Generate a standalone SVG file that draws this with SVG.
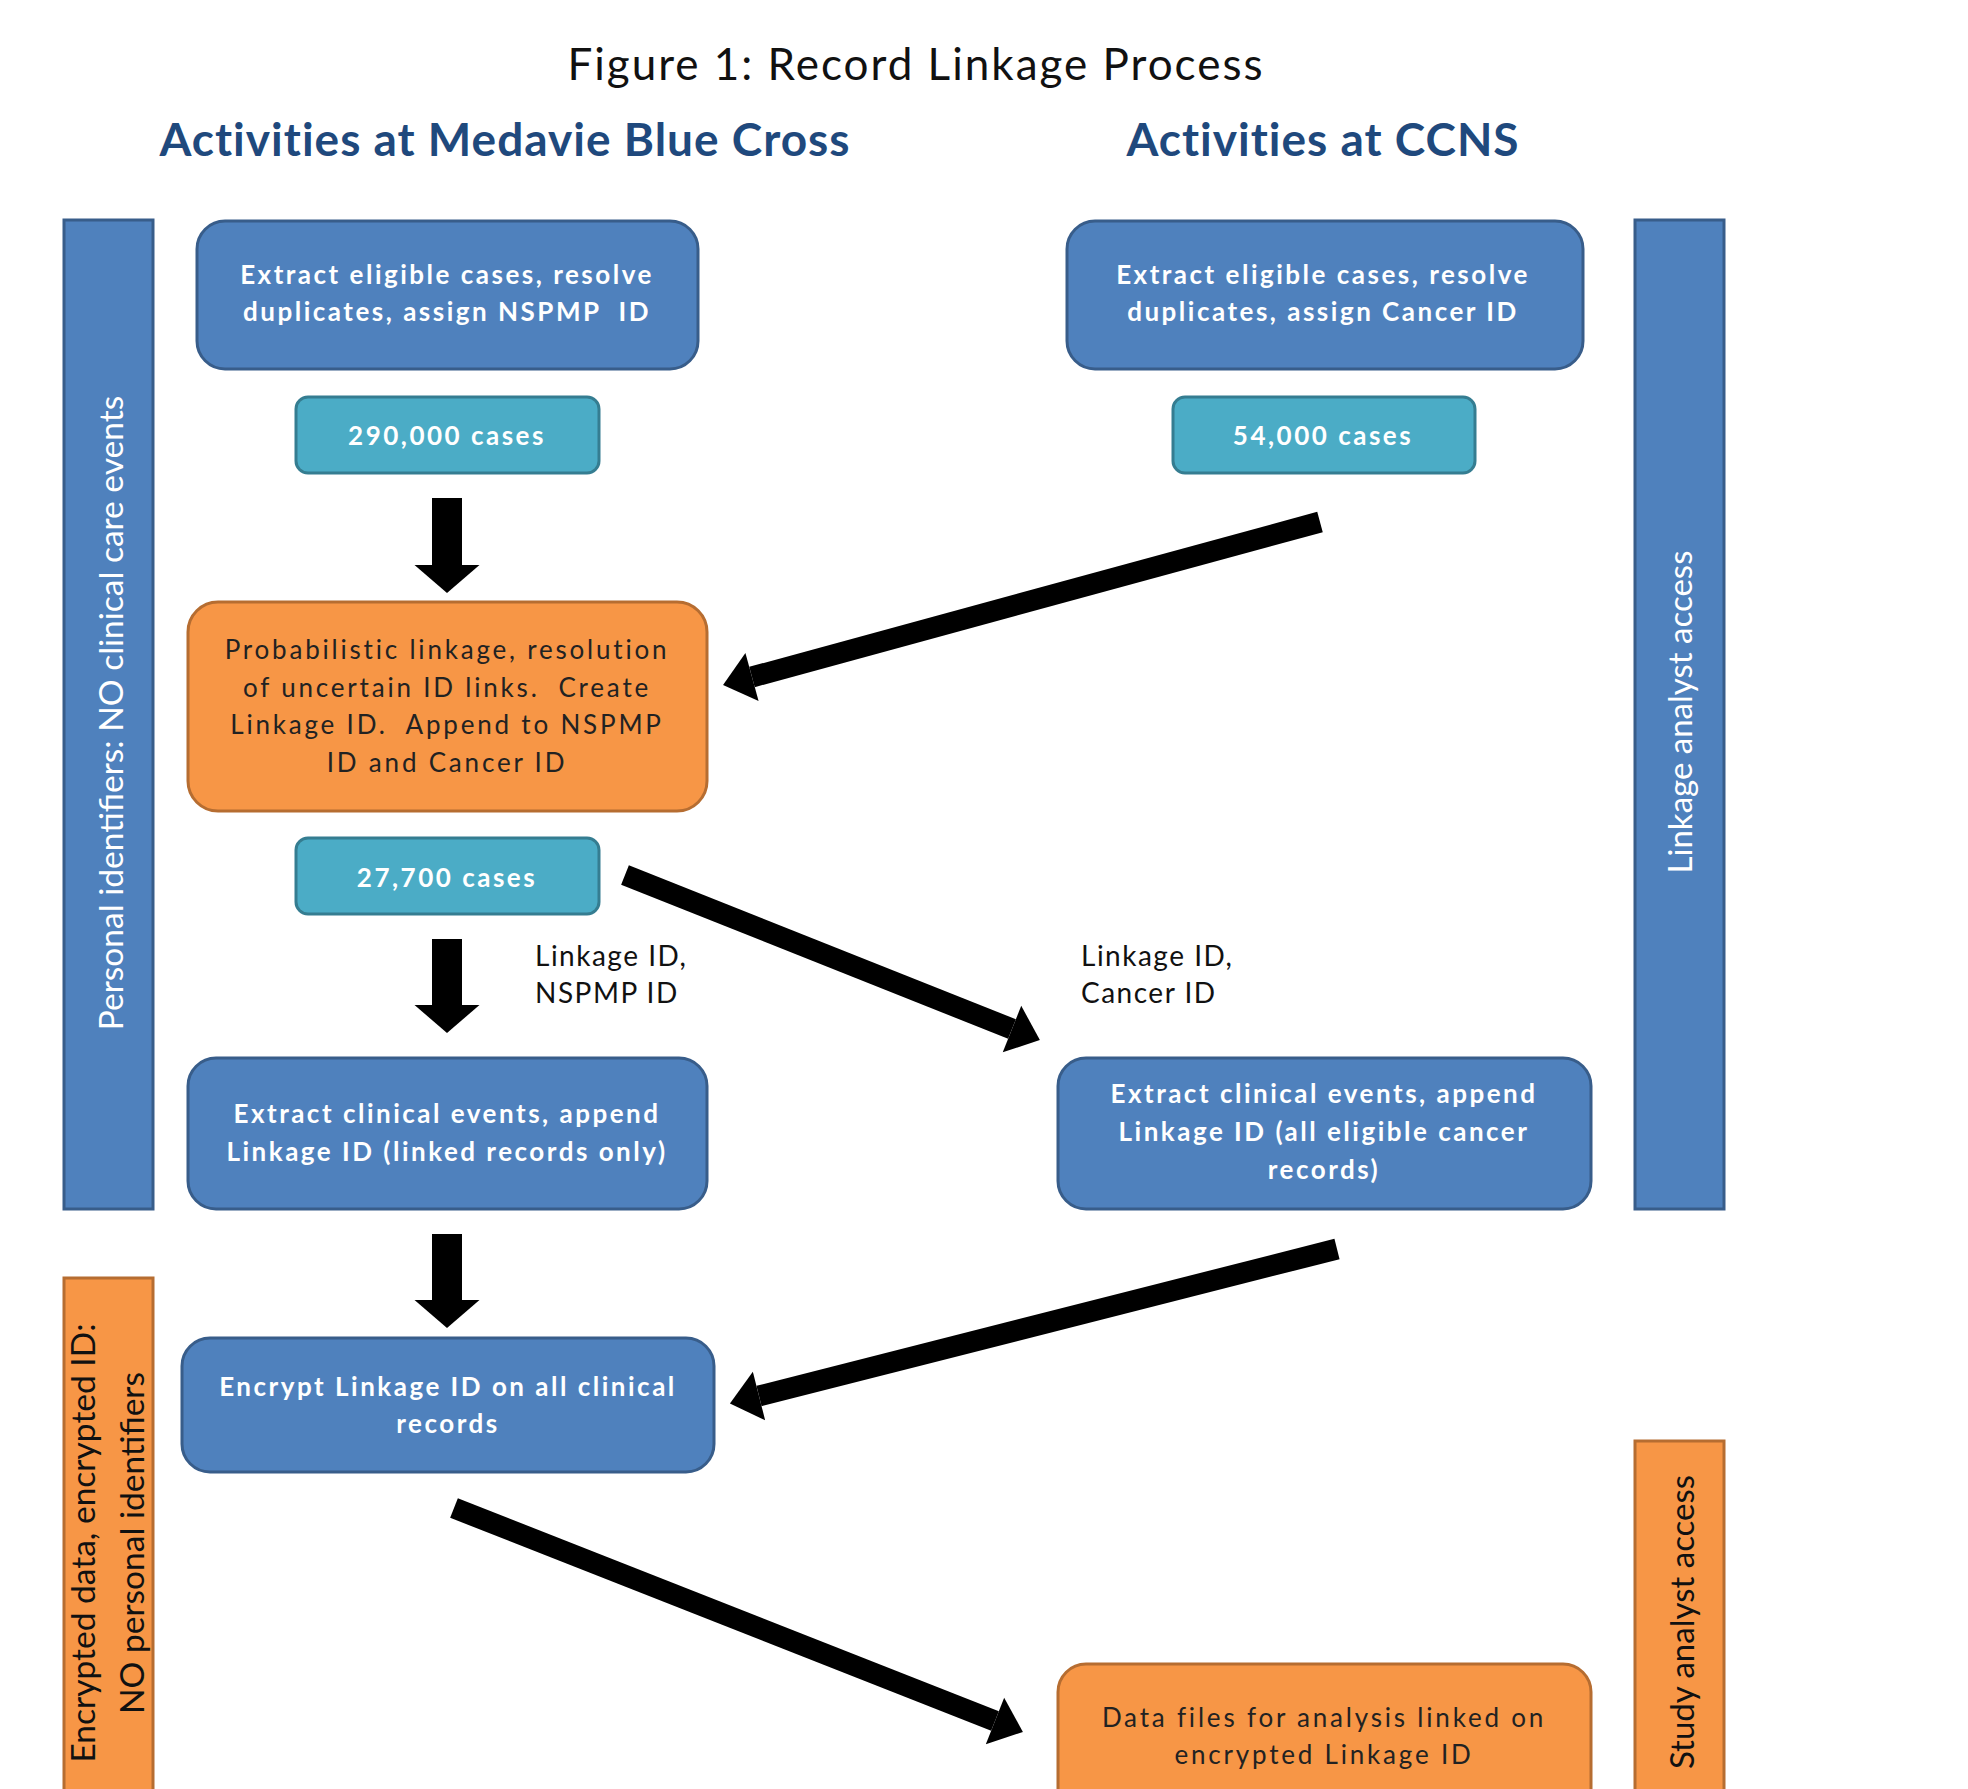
<svg xmlns="http://www.w3.org/2000/svg" width="1968" height="1789" viewBox="0 0 1968 1789">
<style>
.title{font-family:Lato,"Liberation Sans",sans-serif;font-size:44px;fill:#111;letter-spacing:2px;}
.head{font-family:Lato,"Liberation Sans",sans-serif;font-size:46px;font-weight:bold;fill:#1F497D;letter-spacing:1px;}
.blue{fill:#4F81BD;stroke:#385D8A;stroke-width:3;}
.teal{fill:#4BACC6;stroke:#357D91;stroke-width:3;}
.orange{fill:#F79646;stroke:#B66D31;stroke-width:3;}
.wt{font-family:Lato,"Liberation Sans",sans-serif;font-size:26px;font-weight:bold;fill:#fff;letter-spacing:2.5px;}
.dt{font-family:Lato,"Liberation Sans",sans-serif;font-size:26px;fill:#222;letter-spacing:2.8px;}
.lbl{font-family:Lato,"Liberation Sans",sans-serif;font-size:28px;fill:#111;letter-spacing:1.5px;}
.side{font-family:Lato,"Liberation Sans",sans-serif;font-size:33.5px;}
.conn{stroke:#000;stroke-width:21;fill:none;}
.vconn{stroke:#000;stroke-width:30;fill:none;}
</style>
<defs>
<marker id="ah" markerUnits="userSpaceOnUse" markerWidth="40" markerHeight="60" refX="0" refY="0" orient="auto" overflow="visible">
<path d="M0,-25 L30,0 L0,25 Z" fill="#000"/>
</marker>
<marker id="vh" markerUnits="userSpaceOnUse" markerWidth="40" markerHeight="70" refX="0" refY="0" orient="auto" overflow="visible">
<path d="M0,-32.5 L28,0 L0,32.5 Z" fill="#000"/>
</marker>
</defs>
<rect width="1968" height="1789" fill="#fff"/>

<text class="title" x="916" y="63" text-anchor="middle" dominant-baseline="central">Figure 1: Record Linkage Process</text>
<text class="head" x="505" y="138" text-anchor="middle" dominant-baseline="central">Activities at Medavie Blue Cross</text>
<text class="head" x="1323" y="138" text-anchor="middle" dominant-baseline="central">Activities at CCNS</text>

<g id="sidebar-personal">
<rect class="blue" x="64" y="220" width="89" height="989"/>
<text class="side" fill="#fff" transform="translate(110,713) rotate(-90)" text-anchor="middle" dominant-baseline="central">Personal identifiers: NO clinical care events</text>
</g>
<g id="sidebar-linkage">
<rect class="blue" x="1635" y="220" width="89" height="989"/>
<text class="side" fill="#fff" transform="translate(1679,712) rotate(-90)" text-anchor="middle" dominant-baseline="central" style="font-size:33px">Linkage analyst access</text>
</g>
<g id="sidebar-encrypted">
<rect class="orange" x="64" y="1278" width="89" height="540"/>
<text class="side" fill="#111" transform="translate(108,1543) rotate(-90)" text-anchor="middle"><tspan x="0" y="-13">Encrypted data, encrypted ID:</tspan><tspan x="0" y="36">NO personal identifiers</tspan></text>
</g>
<g id="sidebar-study">
<rect class="orange" x="1635" y="1441" width="89" height="380"/>
<text class="side" fill="#111" transform="translate(1681,1622) rotate(-90)" text-anchor="middle" dominant-baseline="central" style="font-size:33px">Study analyst access</text>
</g>

<g id="n-mbc-extract">
<rect class="blue" x="197" y="221" width="501" height="148" rx="28"/>
<text class="wt" text-anchor="middle" xml:space="preserve"><tspan x="447" y="284">Extract eligible cases, resolve</tspan><tspan x="447" y="321">duplicates, assign NSPMP  ID</tspan></text>
</g>
<g id="n-mbc-count">
<rect class="teal" x="296" y="397" width="303" height="76" rx="12"/>
<text class="wt" x="447" y="435" text-anchor="middle" dominant-baseline="central">290,000 cases</text>
</g>
<g id="n-ccns-extract">
<rect class="blue" x="1067" y="221" width="516" height="148" rx="28"/>
<text class="wt" text-anchor="middle"><tspan x="1323" y="284">Extract eligible cases, resolve</tspan><tspan x="1323" y="321">duplicates, assign Cancer ID</tspan></text>
</g>
<g id="n-ccns-count">
<rect class="teal" x="1173" y="397" width="302" height="76" rx="12"/>
<text class="wt" x="1323" y="435" text-anchor="middle" dominant-baseline="central">54,000 cases</text>
</g>
<g id="n-linkage">
<rect class="orange" x="188" y="602" width="519" height="209" rx="30"/>
<text class="dt" text-anchor="middle" xml:space="preserve"><tspan x="447" y="659">Probabilistic linkage, resolution</tspan><tspan x="447" y="697">of uncertain ID links.  Create</tspan><tspan x="447" y="734">Linkage ID.  Append to NSPMP</tspan><tspan x="447" y="772">ID and Cancer ID</tspan></text>
</g>
<g id="n-linked-count">
<rect class="teal" x="296" y="838" width="303" height="76" rx="12"/>
<text class="wt" x="447" y="877" text-anchor="middle" dominant-baseline="central">27,700 cases</text>
</g>
<g id="lbl-nspmp">
<text class="lbl"><tspan x="535" y="966">Linkage ID,</tspan><tspan x="535" y="1003">NSPMP ID</tspan></text>
</g>
<g id="lbl-cancer">
<text class="lbl"><tspan x="1081" y="966">Linkage ID,</tspan><tspan x="1081" y="1003">Cancer ID</tspan></text>
</g>
<g id="n-mbc-clinical">
<rect class="blue" x="188" y="1058" width="519" height="151" rx="28"/>
<text class="wt" text-anchor="middle"><tspan x="447" y="1123">Extract clinical events, append</tspan><tspan x="447" y="1161">Linkage ID (linked records only)</tspan></text>
</g>
<g id="n-ccns-clinical">
<rect class="blue" x="1058" y="1058" width="533" height="151" rx="28"/>
<text class="wt" text-anchor="middle"><tspan x="1324" y="1103">Extract clinical events, append</tspan><tspan x="1324" y="1141">Linkage ID (all eligible cancer</tspan><tspan x="1324" y="1179">records)</tspan></text>
</g>
<g id="n-encrypt">
<rect class="blue" x="182" y="1338" width="532" height="134" rx="28"/>
<text class="wt" text-anchor="middle"><tspan x="448" y="1396">Encrypt Linkage ID on all clinical</tspan><tspan x="448" y="1433">records</tspan></text>
</g>
<g id="n-datafiles">
<rect class="orange" x="1058" y="1664" width="533" height="160" rx="28"/>
<text class="dt" text-anchor="middle"><tspan x="1324" y="1727">Data files for analysis linked on</tspan><tspan x="1324" y="1764">encrypted Linkage ID</tspan></text>
</g>

<g id="connectors">
<line class="vconn" x1="447" y1="498" x2="447" y2="565" marker-end="url(#vh)"/>
<line class="vconn" x1="447" y1="939" x2="447" y2="1005" marker-end="url(#vh)"/>
<line class="vconn" x1="447" y1="1234" x2="447" y2="1300" marker-end="url(#vh)"/>
<line class="conn" x1="1320" y1="522" x2="752" y2="677" marker-end="url(#ah)"/>
<line class="conn" x1="625" y1="875" x2="1012" y2="1029" marker-end="url(#ah)"/>
<line class="conn" x1="1337" y1="1249" x2="759" y2="1396" marker-end="url(#ah)"/>
<line class="conn" x1="454" y1="1508" x2="995" y2="1721" marker-end="url(#ah)"/>
</g>
</svg>
